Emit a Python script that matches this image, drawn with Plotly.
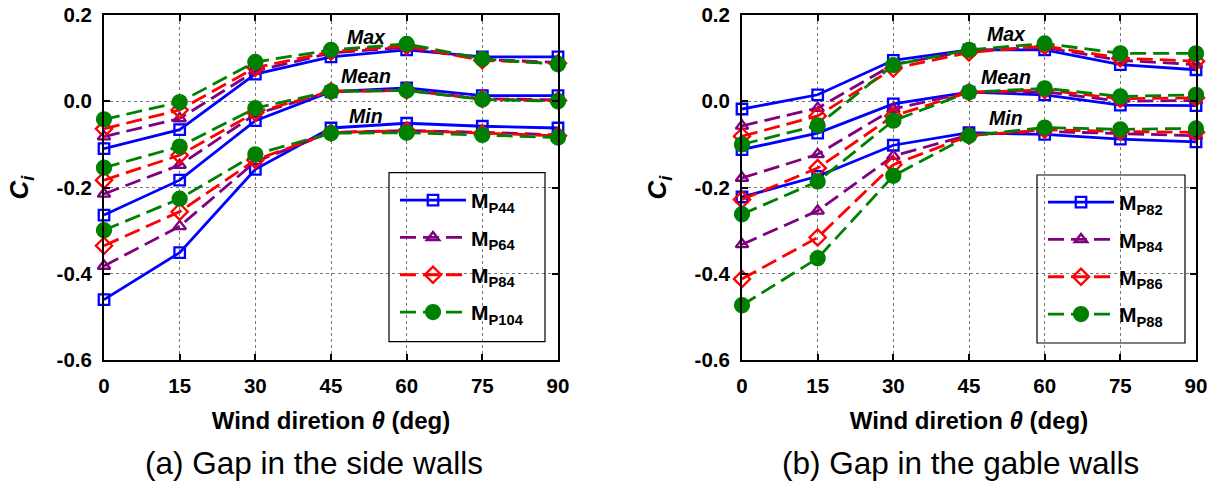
import plotly.graph_objects as go

# ---------------- data ----------------
angles = [0, 15, 30, 45, 60, 75, 90]

# (a) Gap in the side walls
a_names = ["M<sub>P44</sub>", "M<sub>P64</sub>", "M<sub>P84</sub>", "M<sub>P104</sub>"]
a_max = [
    [-0.110, -0.066, 0.063, 0.103, 0.119, 0.103, 0.103],
    [-0.082, -0.040, 0.070, 0.112, 0.125, 0.097, 0.090],
    [-0.064, -0.020, 0.078, 0.115, 0.128, 0.095, 0.088],
    [-0.042, -0.002, 0.091, 0.119, 0.133, 0.098, 0.086],
]
a_mean = [
    [-0.264, -0.183, -0.045, 0.022, 0.031, 0.013, 0.013],
    [-0.215, -0.148, -0.030, 0.023, 0.025, 0.006, 0.003],
    [-0.183, -0.125, -0.026, 0.023, 0.025, 0.005, 0.002],
    [-0.154, -0.105, -0.016, 0.023, 0.025, 0.004, 0.000],
]
a_min = [
    [-0.460, -0.351, -0.158, -0.062, -0.051, -0.058, -0.062],
    [-0.382, -0.290, -0.140, -0.072, -0.068, -0.072, -0.078],
    [-0.335, -0.256, -0.136, -0.073, -0.068, -0.074, -0.080],
    [-0.299, -0.226, -0.123, -0.074, -0.073, -0.078, -0.084],
]

# (b) Gap in the gable walls
b_names = ["M<sub>P82</sub>", "M<sub>P84</sub>", "M<sub>P86</sub>", "M<sub>P88</sub>"]
b_max = [
    [-0.018, 0.015, 0.095, 0.119, 0.119, 0.085, 0.073],
    [-0.057, -0.016, 0.085, 0.117, 0.125, 0.095, 0.085],
    [-0.081, -0.034, 0.076, 0.113, 0.128, 0.100, 0.093],
    [-0.100, -0.056, 0.084, 0.119, 0.134, 0.111, 0.111],
]
b_mean = [
    [-0.112, -0.074, -0.006, 0.021, 0.015, -0.009, -0.010],
    [-0.178, -0.123, -0.018, 0.021, 0.022, 0.000, 0.002],
    [-0.228, -0.155, -0.034, 0.021, 0.026, 0.006, 0.008],
    [-0.262, -0.186, -0.045, 0.021, 0.030, 0.011, 0.015],
]
b_min = [
    [-0.222, -0.174, -0.102, -0.073, -0.077, -0.088, -0.094],
    [-0.332, -0.254, -0.127, -0.078, -0.070, -0.075, -0.080],
    [-0.412, -0.316, -0.147, -0.080, -0.066, -0.070, -0.072],
    [-0.473, -0.364, -0.173, -0.080, -0.061, -0.065, -0.063],
]

y_tickvals = [0.2, 0.0, -0.2, -0.4, -0.6]
y_ticktext = ["0.2", "0.0", "-0.2", "-0.4", "-0.6"]
x_tickvals = [0, 15, 30, 45, 60, 75, 90]

stat_labels = ["Max", "Mean", "Min"]
a_label_pos = [(52, 0.150), (52, 0.058), (52, -0.035)]
b_label_pos = [(52.4, 0.155), (52.4, 0.056), (52.4, -0.040)]

# ---------------- style ----------------
colors = ["#0000FF", "#800080", "#FF0000", "#008000"]
symbols = ["square-open", "triangle-up-open", "diamond-open", "circle"]
dashes = ["solid", "16px,7px", "16px,7px", "16px,7px"]
msizes = [10.5, 11, 12.5, 14]
FONT = "Liberation Sans, Arial, sans-serif"
W, H = 1216, 483

fig = go.Figure()


def add_panel(names, groups, xa, ya, legend):
    for k in range(4):
        for g, series in enumerate(groups):
            fig.add_trace(go.Scatter(
                x=angles, y=series[k], xaxis=xa, yaxis=ya,
                mode="lines+markers", name=names[k],
                legendgroup=f"{legend}{k}", legend=legend,
                showlegend=(g == 0),
                line=dict(color=colors[k], width=2.8, dash=dashes[k]),
                marker=dict(symbol=symbols[k], size=msizes[k], color=colors[k],
                            line=dict(color=colors[k], width=2.3)),
                cliponaxis=False,
            ))


add_panel(a_names, [a_max, a_mean, a_min], "x", "y", "legend")
add_panel(b_names, [b_max, b_mean, b_min], "x2", "y2", "legend2")

axis_common = dict(
    showline=True, linecolor="black", linewidth=2, mirror="ticks",
    ticks="inside", ticklen=6, tickwidth=1.5, tickcolor="black",
    showgrid=True, gridcolor="#777777", griddash="dot", gridwidth=1,
    zeroline=False, automargin=False,
    tickfont=dict(family=FONT, size=20.5, color="black", weight="bold"),
)

xaxis = dict(axis_common, range=[0, 90], tickvals=x_tickvals, ticklabelstandoff=6,
             title=dict(text="Wind diretion <i>θ</i> (deg)", standoff=17,
                        font=dict(family=FONT, size=24, color="black", weight="bold")))
yaxis = dict(axis_common, range=[-0.6, 0.2], tickvals=y_tickvals, ticktext=y_ticktext,
             ticklabelstandoff=6,
             title=dict(text="<i>C<sub>i</sub></i>", standoff=20,
                        font=dict(family=FONT, size=26, color="black", weight="bold")))

legend_common = dict(
    borderwidth=0, bgcolor="rgba(0,0,0,0)",
    font=dict(family=FONT, size=21, color="black", weight="bold"),
    itemwidth=66, tracegroupgap=7, xanchor="left", yanchor="top",
)

annotations = []
for (lx, ly), t in zip(a_label_pos, stat_labels):
    annotations.append(dict(x=lx, y=ly, xref="x", yref="y", text=f"<i><b>{t}</b></i>",
                            showarrow=False, font=dict(family=FONT, size=19.5, color="black")))
for (lx, ly), t in zip(b_label_pos, stat_labels):
    annotations.append(dict(x=lx, y=ly, xref="x2", yref="y2", text=f"<i><b>{t}</b></i>",
                            showarrow=False, font=dict(family=FONT, size=19.5, color="black")))
annotations.append(dict(x=314 / W, y=1 - 463 / H, xref="paper", yref="paper",
                        xanchor="center", yanchor="middle",
                        text="(a) Gap in the side walls", showarrow=False,
                        font=dict(family=FONT, size=31.5, color="black")))
annotations.append(dict(x=960 / W, y=1 - 463 / H, xref="paper", yref="paper",
                        xanchor="center", yanchor="middle",
                        text="(b) Gap in the gable walls", showarrow=False,
                        font=dict(family=FONT, size=31.5, color="black")))

# legend frames (layout decoration)
shapes = [
    dict(type="rect", xref="paper", yref="paper", x0=389 / W, x1=545 / W,
         y0=1 - 341.7 / H, y1=1 - 172.7 / H, line=dict(color="black", width=1.2),
         fillcolor="rgba(0,0,0,0)", layer="above"),
    dict(type="rect", xref="paper", yref="paper", x0=1037 / W, x1=1185 / W,
         y0=1 - 343 / H, y1=1 - 175 / H, line=dict(color="black", width=1.2),
         fillcolor="rgba(0,0,0,0)", layer="above"),
]

ydom = [1 - 360 / H, 1 - 15 / H]
fig.update_layout(
    width=W, height=H,
    margin=dict(l=0, r=0, t=0, b=0),
    paper_bgcolor="white", plot_bgcolor="white",
    xaxis=dict(xaxis, domain=[104 / W, 558 / W], anchor="y"),
    yaxis=dict(yaxis, domain=ydom, anchor="x"),
    xaxis2=dict(xaxis, domain=[742 / W, 1196 / W], anchor="y2"),
    yaxis2=dict(yaxis, domain=ydom, anchor="x2"),
    legend=dict(legend_common, x=395 / W, y=1 - 180 / H),
    legend2=dict(legend_common, x=1043 / W, y=1 - 182 / H),
    annotations=annotations,
    shapes=shapes,
    showlegend=True,
)

fig.write_html("out.html")
